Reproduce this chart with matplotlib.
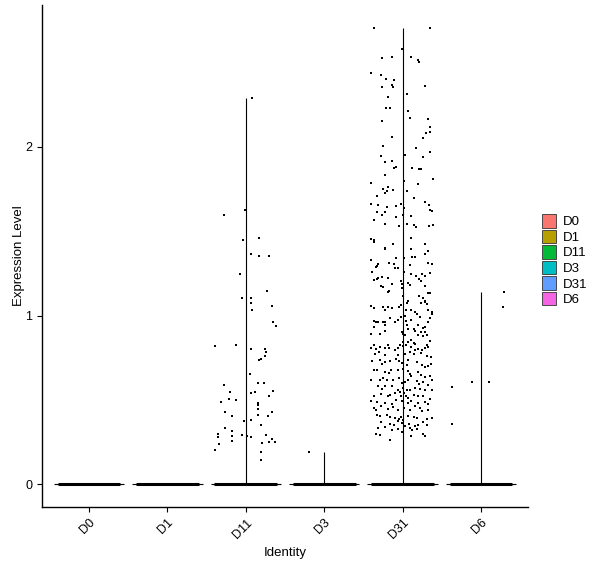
import numpy as np
import matplotlib.pyplot as plt
from matplotlib.patches import Patch

plt.rcParams['font.family'] = ['Liberation Sans', 'DejaVu Sans']

groups = ['D0', 'D1', 'D11', 'D3', 'D31', 'D6']
colors = ['#F8766D', '#B79F00', '#00BA38', '#00BFC4', '#619CFF', '#F564E3']
group_max = [0, 0, 2.29, 0.19, 2.706, 1.14]

# non-zero cells per group: (jitter offset, expression level)
d3_cells = [(-0.20, 0.19)]

d6_cells = [(0.29, 1.138), (0.28, 1.049), (-0.11, 0.605), (0.10, 0.605),
            (-0.37, 0.574), (-0.37, 0.357)]

d11_cells = [
    (0.085, 2.292), (-0.01, 1.623), (-0.28, 1.594), (0.17, 1.458), (-0.04, 1.446),
    (0.06, 1.363), (0.17, 1.351), (0.30, 1.351), (-0.08, 1.249), (0.27, 1.144),
    (-0.05, 1.103), (0.07, 1.103), (0.06, 1.073), (0.085, 1.032), (0.34, 1.055),
    (0.35, 0.960), (0.38, 0.937), (-0.39, 0.818), (-0.12, 0.824), (0.07, 0.801),
    (0.24, 0.801), (0.26, 0.783), (0.25, 0.759), (0.20, 0.741), (0.17, 0.736),
    (0.05, 0.653), (-0.28, 0.588), (0.16, 0.599), (0.23, 0.599), (-0.20, 0.546),
    (0.07, 0.540), (0.12, 0.546), (0.35, 0.552), (0.30, 0.522), (-0.21, 0.505),
    (-0.13, 0.499), (-0.32, 0.487), (0.15, 0.481), (0.15, 0.469), (0.15, 0.446),
    (-0.26, 0.428), (0.34, 0.428), (-0.18, 0.404), (0.16, 0.410), (0.28, 0.404),
    (-0.02, 0.375), (0.07, 0.380), (0.19, 0.351), (-0.26, 0.333), (-0.36, 0.298),
    (-0.36, 0.280), (-0.17, 0.315), (-0.17, 0.286), (-0.17, 0.256), (-0.05, 0.292),
    (0.02, 0.286), (0.07, 0.280), (0.26, 0.292), (0.34, 0.268), (0.37, 0.250),
    (0.29, 0.250), (0.21, 0.244), (-0.34, 0.238), (-0.39, 0.203), (0.19, 0.191),
    (0.19, 0.144),
]

d31_cells = [
    (-0.37, 2.706), (0.35, 2.706), (-0.01, 2.582), (-0.26, 2.528), (-0.14, 2.534),
    (0.11, 2.534), (0.20, 2.517), (0.21, 2.505), (-0.40, 2.440), (-0.27, 2.428),
    (-0.21, 2.404), (-0.11, 2.398), (-0.14, 2.369), (-0.12, 2.357), (-0.26, 2.357),
    (0.29, 2.363), (-0.18, 2.298), (0.06, 2.316), (-0.21, 2.233), (-0.16, 2.233),
    (0.07, 2.215), (-0.26, 2.156), (0.10, 2.173), (0.32, 2.167), (0.35, 2.120),
    (0.35, 2.091), (0.30, 2.085), (0.26, 2.055), (-0.13, 2.061), (-0.25, 2.008),
    (0.17, 1.996), (0.35, 1.972), (-0.28, 1.943), (0.03, 1.949), (0.26, 1.937),
    (-0.23, 1.913), (-0.14, 1.919), (-0.09, 1.883), (-0.11, 1.872), (0.12, 1.872),
    (0.21, 1.866), (0.24, 1.866), (-0.23, 1.836), (0.39, 1.807), (-0.40, 1.783),
    (0.02, 1.795), (0.20, 1.777), (-0.25, 1.753), (-0.18, 1.765), (-0.12, 1.747),
    (-0.20, 1.736), (0.06, 1.741), (-0.23, 1.724), (-0.32, 1.706), (0.14, 1.694),
    (0.28, 1.676), (-0.40, 1.664), (-0.31, 1.658), (-0.02, 1.664), (-0.08, 1.647),
    (-0.20, 1.641), (0.02, 1.635), (0.34, 1.658), (0.35, 1.623), (0.38, 1.617),
    (-0.32, 1.611), (-0.22, 1.611), (-0.26, 1.599), (-0.09, 1.582), (0.01, 1.599),
    (0.11, 1.588), (-0.37, 1.564), (-0.22, 1.540), (-0.04, 1.528), (0.05, 1.540),
    (0.15, 1.534), (0.17, 1.523), (0.34, 1.528), (0.39, 1.534),
    (-0.40, 1.454), (-0.36, 1.446), (0.11, 1.457),
    (-0.36, 1.434), (-0.12, 1.422), (-0.22, 1.402), (-0.23, 1.394), (0.11, 1.394),
    (0.28, 1.422), (0.33, 1.383), (-0.40, 1.329), (-0.09, 1.343), (0.02, 1.343),
    (0.12, 1.349), (0.16, 1.349), (0.28, 1.363), (-0.33, 1.296), (-0.31, 1.304),
    (-0.34, 1.290), (-0.17, 1.310), (-0.11, 1.304), (-0.06, 1.284), (-0.10, 1.284),
    (0.09, 1.300), (0.33, 1.310), (0.37, 1.304), (-0.39, 1.256), (0.02, 1.260),
    (0.11, 1.245), (0.17, 1.235), (0.25, 1.245), (0.28, 1.237), (0.35, 1.250),
    (-0.33, 1.217), (-0.36, 1.211), (-0.26, 1.231), (-0.18, 1.221), (-0.31, 1.225),
    (-0.02, 1.205), (-0.01, 1.185), (0.07, 1.191), (0.09, 1.181), (0.21, 1.217),
    (0.24, 1.205), (-0.27, 1.178), (-0.25, 1.172), (-0.13, 1.185), (-0.01, 1.162),
    (0.29, 1.178), (-0.17, 1.146), (-0.18, 1.138), (0.01, 1.118), (0.21, 1.118),
    (0.26, 1.103), (0.32, 1.132), (0.35, 1.132), (0.23, 1.073), (0.28, 1.083),
    (0.29, 1.087), (0.31, 1.067), (0.07, 1.087), (0.06, 1.073), (-0.40, 1.059),
    (-0.37, 1.047), (-0.25, 1.053), (-0.23, 1.034), (-0.18, 1.053), (-0.13, 1.047),
    (-0.05, 1.053), (-0.02, 1.063), (0.04, 1.034), (0.11, 1.034), (0.16, 1.020),
    (0.18, 1.008), (0.33, 1.034), (0.38, 1.020), (0.38, 1.008), (-0.37, 0.968),
    (-0.34, 0.961), (-0.31, 0.964), (-0.25, 0.961), (-0.22, 0.964), (-0.16, 0.988),
    (-0.10, 0.961), (-0.06, 0.974), (-0.02, 0.994), (0.03, 1.000), (0.04, 0.968),
    (0.11, 0.974), (0.22, 0.994), (0.35, 0.988), (0.32, 0.964), (-0.36, 0.935),
    (-0.22, 0.941), (0.05, 0.945), (0.07, 0.921), (0.14, 0.921), (0.16, 0.909),
    (0.20, 0.945), (0.26, 0.929), (0.29, 0.935), (-0.23, 0.909), (-0.40, 0.890),
    (-0.29, 0.890), (-0.01, 0.901), (0.01, 0.890), (0.03, 0.882), (0.20, 0.886),
    (0.23, 0.901), (0.28, 0.905), (0.31, 0.882), (0.26, 0.876), (0.35, 0.850),
    (0.11, 0.856), (0.01, 0.846), (0.07, 0.842), (0.14, 0.836), (-0.37, 0.826),
    (-0.19, 0.826), (-0.03, 0.826), (0.00, 0.822), (0.04, 0.826), (0.16, 0.830),
    (0.31, 0.826),
    (-0.40, 0.807), (-0.34, 0.801), (-0.29, 0.813), (-0.23, 0.807), (-0.17, 0.807),
    (-0.10, 0.797), (-0.06, 0.807), (0.11, 0.813), (0.16, 0.797), (0.20, 0.801),
    (0.25, 0.793), (0.28, 0.807), (0.33, 0.813), (-0.35, 0.773), (-0.30, 0.781),
    (-0.22, 0.767), (-0.06, 0.767), (0.03, 0.773), (0.09, 0.781), (0.14, 0.773),
    (0.24, 0.777), (0.31, 0.761), (0.36, 0.757), (-0.39, 0.728), (-0.29, 0.734),
    (-0.26, 0.714), (-0.22, 0.722), (-0.16, 0.728), (-0.08, 0.742), (-0.05, 0.728),
    (-0.01, 0.718), (0.07, 0.734), (0.05, 0.708), (0.18, 0.722), (0.25, 0.708),
    (0.28, 0.694), (0.33, 0.702), (0.36, 0.714), (-0.37, 0.679), (-0.33, 0.675),
    (-0.23, 0.663), (-0.17, 0.659), (-0.15, 0.675), (-0.06, 0.675), (0.01, 0.682),
    (0.07, 0.669), (0.09, 0.655), (0.11, 0.639), (0.20, 0.663), (0.24, 0.649),
    (0.29, 0.635), (0.35, 0.643), (0.38, 0.619), (-0.40, 0.619), (-0.29, 0.619),
    (-0.25, 0.629), (-0.20, 0.615), (-0.12, 0.619), (-0.05, 0.629), (-0.01, 0.600),
    (0.03, 0.604), (0.07, 0.615), (0.18, 0.609), (0.21, 0.596), (0.26, 0.604),
    (0.33, 0.590), (-0.31, 0.584), (-0.26, 0.564), (-0.22, 0.580), (-0.14, 0.584),
    (-0.06, 0.560), (-0.03, 0.544), (0.00, 0.570), (0.02, 0.540), (0.05, 0.560),
    (0.09, 0.556), (0.16, 0.570), (0.22, 0.564), (0.28, 0.556), (0.37, 0.560),
    (-0.36, 0.525), (-0.27, 0.536), (-0.19, 0.521), (-0.16, 0.530), (-0.10, 0.540),
    (-0.02, 0.525), (0.04, 0.521), (0.07, 0.511), (0.14, 0.530), (0.20, 0.525),
    (0.26, 0.521), (0.35, 0.505), (-0.40, 0.491), (-0.33, 0.485), (-0.22, 0.481),
    (-0.13, 0.477), (-0.08, 0.497), (-0.01, 0.491), (0.07, 0.481), (0.11, 0.491),
    (0.20, 0.481), (0.28, 0.485), (0.33, 0.477), (-0.37, 0.452), (-0.34, 0.438),
    (-0.27, 0.462), (-0.19, 0.446), (-0.12, 0.458), (-0.06, 0.442), (0.02, 0.452),
    (0.09, 0.442), (0.16, 0.462), (0.22, 0.452), (0.25, 0.432), (0.33, 0.442),
    (-0.33, 0.412), (-0.29, 0.402), (-0.20, 0.412), (-0.16, 0.398), (-0.10, 0.393),
    (-0.05, 0.387), (-0.02, 0.398), (0.01, 0.383), (0.07, 0.406), (0.14, 0.398),
    (0.19, 0.393), (0.31, 0.387), (0.37, 0.393), (-0.27, 0.367), (-0.16, 0.359),
    (-0.11, 0.353), (-0.06, 0.373), (-0.01, 0.363), (0.03, 0.347), (0.08, 0.359),
    (0.16, 0.343), (0.20, 0.353), (0.26, 0.367), (0.31, 0.353), (-0.31, 0.333),
    (-0.23, 0.339), (-0.14, 0.323), (-0.06, 0.327), (0.09, 0.333), (0.12, 0.320),
    (0.18, 0.327), (-0.01, 0.308), (0.26, 0.300), (-0.34, 0.300), (-0.29, 0.294),
    (-0.16, 0.264), (0.28, 0.288), (0.11, 0.284),
]

nonzero = {'D11': d11_cells, 'D3': d3_cells, 'D31': d31_cells, 'D6': d6_cells}

fig = plt.figure(figsize=(6, 5.68), dpi=100)
ax = fig.add_axes([0.07, 0.1074, 0.81, 0.8838])

for i, g in enumerate(groups):
    pos = i + 1
    # violin is so skewed to zero that it collapses to a flat base and a thin spike
    ax.hlines(0, pos - 0.45, pos + 0.45, color='black', lw=0.8, zorder=2)
    if group_max[i] > 0:
        ax.vlines(pos, 0, group_max[i], color='black', lw=0.8, zorder=2)
    # the many zero-valued cells, jittered side by side into a solid bar
    ax.hlines(0, pos - 0.4, pos + 0.4, color='black', lw=2.2, zorder=3)
    cells = nonzero.get(g, [])
    if cells:
        jit, expr = zip(*cells)
        ax.scatter(pos + np.array(jit), expr, s=3.5, c='black', marker='s',
                   linewidths=0, zorder=3)

ax.set_xlim(0.4, 6.6)
ax.set_ylim(-0.135, 2.841)
ax.set_xticks(range(1, len(groups) + 1))
ax.set_xticklabels(groups, rotation=45, ha='right', va='top', rotation_mode='anchor')
ax.set_yticks([0, 1, 2])
ax.tick_params(length=3.5, width=0.8, color='black', labelsize=9, labelcolor='black')
for s in ['top', 'right']:
    ax.spines[s].set_visible(False)
for s in ['left', 'bottom']:
    ax.spines[s].set_linewidth(1.0)
    ax.spines[s].set_color('black')

ax.set_xlabel('Identity', fontsize=9.5, labelpad=4)
ax.set_ylabel('Expression Level', fontsize=9.5)
ax.yaxis.set_label_coords(-0.034, 0.5)

handles = [Patch(facecolor=c, edgecolor='#333333', lw=0.6, label=g)
           for g, c in zip(groups, colors)]
fig.legend(handles=handles, loc='center left', bbox_to_anchor=(0.904, 0.542),
           frameon=False, fontsize=9.5, handlelength=1.05, handleheight=1.2,
           labelspacing=0.1, handletextpad=0.5, borderpad=0, borderaxespad=0)

fig.savefig('out.png', dpi=100)
